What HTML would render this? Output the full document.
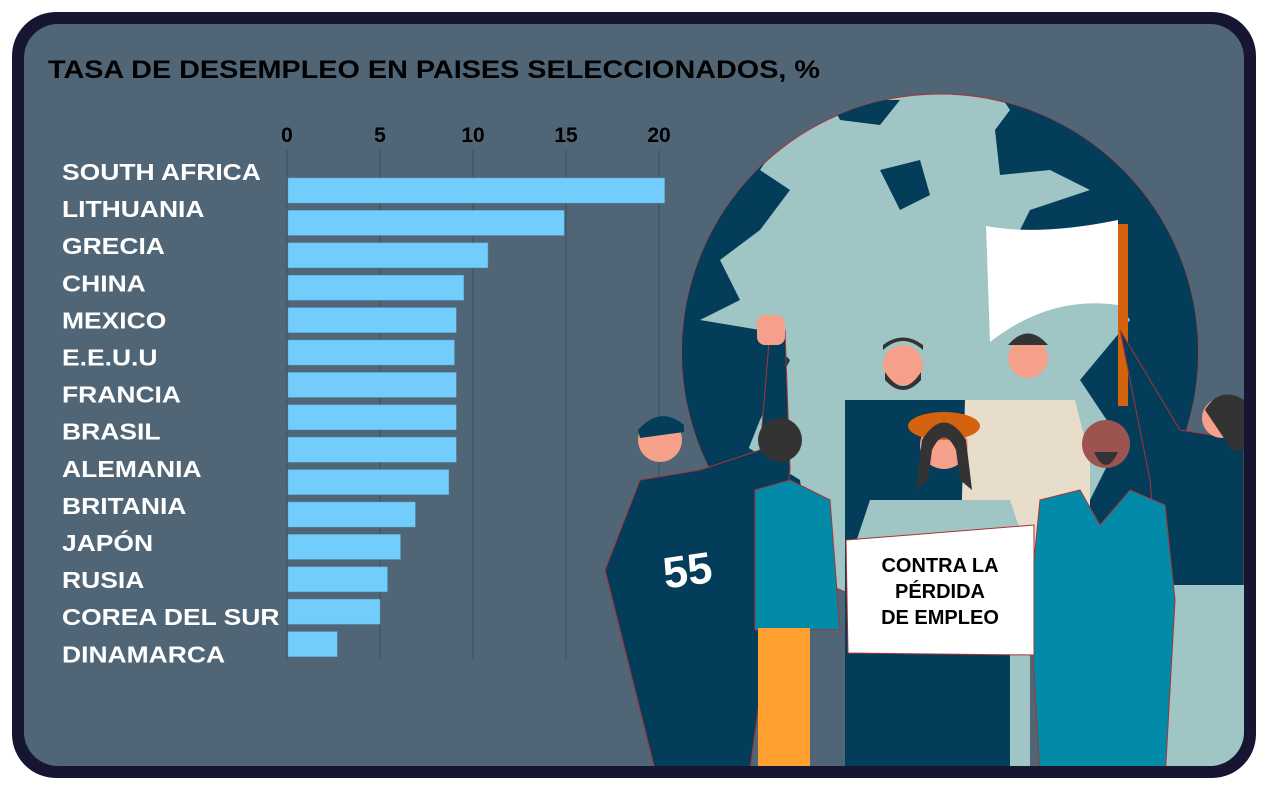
<!DOCTYPE html>
<html><head><meta charset="utf-8"><style>
html,body{margin:0;padding:0;background:#fff;}
body{width:1268px;height:787px;position:relative;overflow:hidden;font-family:"Liberation Sans",sans-serif;}
</style></head><body>
<svg width="1268" height="787" viewBox="0 0 1268 787" xmlns="http://www.w3.org/2000/svg">
<defs><clipPath id="panel"><rect x="24" y="24" width="1220" height="742" rx="34"/></clipPath>
<clipPath id="globeclip"><circle cx="940" cy="352" r="258"/></clipPath></defs>
<rect x="12" y="12" width="1244" height="766" rx="44" fill="#161632"/>
<rect x="24" y="24" width="1220" height="742" rx="34" fill="#506677"/>
<text x="48" y="78" font-size="25" font-weight="bold" fill="#000" textLength="772" lengthAdjust="spacingAndGlyphs">TASA DE DESEMPLEO EN PAISES SELECCIONADOS, %</text>
<g id="chart"></g>
<g clip-path="url(#panel)">
 <g>
  <circle cx="940" cy="352" r="258" fill="#9fc5c5" stroke="#a33" stroke-width="1"/>
  <g clip-path="url(#globeclip)" fill="#033d5a">
   <path d="M680 80 L810 80 L800 110 L760 170 L790 190 L760 230 L720 260 L740 300 L700 320 L760 330 L790 360 L760 420 L740 470 L680 480Z"/>
   <path d="M990 80 L1200 80 L1200 620 L1060 620 L1080 520 L1120 440 L1080 380 L1130 320 L1110 290 L1060 290 L1010 250 L1030 210 L1090 190 L1050 170 L1000 175 L995 130 L1010 110Z"/>
   <path d="M830 100 L900 100 L880 125 L840 120Z"/>
   <path d="M880 170 L920 160 L930 195 L900 210Z"/>
   <path d="M640 450 L720 430 L800 480 L820 620 L640 620Z"/>
  </g>
 </g>
 <g>
  <rect x="1118" y="224" width="10" height="182" fill="#d5620f"/>
  <path d="M986 226 Q1040 236 1118 220 L1118 305 Q1050 295 990 342 Z" fill="#ffffff"/>
 </g>
 <g>
  <path d="M1120 330 L1180 430 L1244 440 L1244 590 L1160 590 L1150 480Z" fill="#033d5a" stroke="#a33"/>
  <rect x="1160" y="585" width="90" height="190" fill="#9fc5c5"/>
  <circle cx="1222" cy="418" r="20" fill="#f4a08b"/>
  <path d="M1205 410 Q1220 385 1244 400 L1244 450 L1232 450Z" fill="#333"/>
  <rect x="845" y="400" width="140" height="380" fill="#033d5a"/>
  <circle cx="903" cy="365" r="20" fill="#f4a08b"/>
  <path d="M883 350 Q903 332 923 350 L923 345 Q903 330 883 345Z" fill="#333"/>
  <path d="M885 372 Q903 400 921 372 L921 380 Q903 400 885 380Z" fill="#333"/>
  <path d="M965 400 L1075 400 L1090 460 L1090 560 L960 560Z" fill="#e8dccb"/>
  <circle cx="1028" cy="358" r="20" fill="#f4a08b"/>
  <path d="M1008 345 Q1028 322 1048 345Z" fill="#333"/>
  <path d="M640 480 L700 470 L760 450 L770 330 L785 330 L790 470 L750 770 L655 770 L605 570Z" fill="#033d5a" stroke="#a33"/>
  <circle cx="660" cy="440" r="22" fill="#f4a08b"/>
  <path d="M638 430 Q660 405 684 425 L684 432 L640 438Z" fill="#033d5a"/>
  <rect x="757" y="315" width="28" height="30" rx="8" fill="#f4a08b"/>
  <text x="663" y="585" font-size="44" font-weight="bold" fill="#fff" transform="rotate(-8 690 570)">55</text>
  <path d="M755 490 L790 480 L830 500 L840 630 L755 630Z" fill="#028aa9" stroke="#a33"/>
  <rect x="758" y="628" width="52" height="145" fill="#ffa030"/>
  <circle cx="780" cy="440" r="22" fill="#333"/>
  <path d="M870 500 L1010 500 L1030 560 L1030 780 L850 780 L850 560Z" fill="#9fc5c5"/>
  <rect x="850" y="640" width="160" height="140" fill="#033d5a"/>
  <circle cx="944" cy="445" r="24" fill="#f4a08b"/>
  <ellipse cx="944" cy="426" rx="36" ry="14" fill="#d5620f"/>
  <path d="M922 440 Q944 405 966 440 L972 490 L960 480 L956 450 Q944 425 932 450 L928 480 L916 490Z" fill="#333"/>
  <path d="M1040 500 L1080 490 L1100 525 L1130 490 L1165 505 L1175 600 L1165 780 L1040 780 L1030 600Z" fill="#028aa9" stroke="#a33"/>
  <circle cx="1106" cy="444" r="24" fill="#9b5450"/>
  <path d="M1094 452 Q1106 478 1118 452Z" fill="#333"/>
 </g>
 <g>
  <path d="M846 540 L1034 525 L1034 655 L848 653Z" fill="#ffffff" stroke="#a33"/>
  <text x="940" y="572" font-size="20" font-weight="bold" fill="#000" text-anchor="middle">CONTRA LA</text>
  <text x="940" y="598" font-size="20" font-weight="bold" fill="#000" text-anchor="middle">PÉRDIDA</text>
  <text x="940" y="624" font-size="20" font-weight="bold" fill="#000" text-anchor="middle">DE EMPLEO</text>
 </g>
</g>
</svg>
<script>
const labels = ["SOUTH AFRICA","LITHUANIA","GRECIA","CHINA","MEXICO","E.E.U.U","FRANCIA","BRASIL","ALEMANIA","BRITANIA","JAPÓN","RUSIA","COREA DEL SUR","DINAMARCA"];
const values = [20.3,14.9,10.8,9.5,9.1,9.0,9.1,9.1,9.1,8.7,6.9,6.1,5.4,5.0,2.7];
const ticks = [0,5,10,15,20];
const tickText = ["0","5","10","15","20"];
const NS = "http://www.w3.org/2000/svg";
const g = document.getElementById("chart");
const x0 = 287, x20 = 659;
function xs(v){ return x0 + (x20 - x0) * v / 20; }
function yb(i){ return 178 + i * 32.4; }
function mk(tag, attrs){ const e = document.createElementNS(NS, tag); for (const k in attrs) e.setAttribute(k, attrs[k]); g.appendChild(e); return e; }
ticks.forEach((t, i) => {
  const ln = mk("line", {x1: xs(t), x2: xs(t), y1: 150, y2: 660, stroke: "#3c4d5c", "stroke-width": 1});
  
  
  const tx = mk("text", {x: xs(t), y: 142, "font-size": 21, "font-weight": "bold", "text-anchor": "middle", fill: "#000"});
  tx.textContent = tickText[i];
  
  
});
values.forEach((v, i) => {
  const r = mk("rect", {x: x0 + 1, y: yb(i), width: xs(v) - x0 - 1, height: 25, fill: "#72cdfc", stroke: "#5aa6d0", "stroke-width": 0.5});
  
  
});
labels.forEach((l, i) => {
  const tx = mk("text", {x: 62, y: 180 + i * 37.1, "font-size": 23, "font-weight": "bold", fill: "#ffffff"});
  tx.textContent = l;
  
  
  const w = tx.getComputedTextLength();
  tx.setAttribute("textLength", (w * 1.15).toFixed(1));
  tx.setAttribute("lengthAdjust", "spacingAndGlyphs");
});
</script>
</body></html>
